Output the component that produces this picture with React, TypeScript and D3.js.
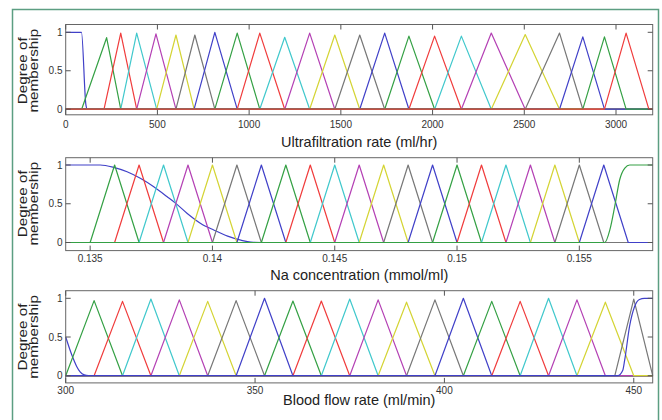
import * as d3 from "d3";
import React, { useEffect, useRef } from "react";

// couleurs dans l'ordre de tracé (b g r c m y k)
const lineColors = ["#4040c8", "#34a044", "#f03c3c", "#40c8cc", "#b440b4", "#d4d434", "#777777"];

// --- Ultrafiltration rate (ml/hr)
const ufTicks = [0, 500, 1000, 1500, 2000, 2500, 3000];
const ufTickLabels = ["0", "500", "1000", "1500", "2000", "2500", "3000"];
const ufLeft = [[0, 1], [86, 1], [110, 0.06], [118, 0]];
const ufTriangles = [
  [87, 223, 300], [209, 300, 387], [300, 387, 496], [387, 492, 601], [496, 601, 700],
  [601, 704, 813], [700, 813, 935], [813, 935, 1058], [935, 1058, 1194], [1058, 1194, 1330],
  [1194, 1330, 1467], [1330, 1467, 1603], [1467, 1603, 1739], [1603, 1739, 1871], [1739, 1871, 2011],
  [1871, 2011, 2157], [2011, 2157, 2320], [2157, 2320, 2505], [2320, 2505, 2692], [2505, 2692, 2819],
  [2692, 2819, 2937], [2819, 2937, 3055], [2937, 3055, 3179],
];
const ufPeaks = [0.93, 0.99, 0.99, 0.98, 0.965, 0.965, 1, 0.99, 0.99, 0.935, 0.99, 0.965,
  0.965, 0.99, 0.95, 0.95, 0.95, 0.99, 0.97, 0.99, 0.94, 0.94, 0.99];

// --- Na concentration (mmol/ml)
const naTicks = [0.135, 0.14, 0.145, 0.15, 0.155];
const naTickLabels = ["0.135", "0.14", "0.145", "0.15", "0.155"];
const naLeft = [
  [0.134, 1], [0.13541, 1], [0.13596, 0.97], [0.13651, 0.913], [0.13705, 0.828], [0.1376, 0.719],
  [0.13815, 0.59], [0.1385, 0.505], [0.13897, 0.375], [0.13952, 0.246], [0.14007, 0.159],
  [0.14062, 0.082], [0.14116, 0.03], [0.14157, 0.004], [0.142, 0],
];
const naTriangles = [
  [0.135, 0.136, 0.137], [0.136, 0.137, 0.138], [0.137, 0.138, 0.139], [0.138, 0.139, 0.14],
  [0.139, 0.14, 0.141], [0.14, 0.141, 0.142], [0.141, 0.142, 0.143], [0.142, 0.143, 0.144],
  [0.143, 0.144, 0.145], [0.144, 0.145, 0.146], [0.145, 0.146, 0.147], [0.146, 0.147, 0.148],
  [0.147, 0.148, 0.149], [0.148, 0.149, 0.15], [0.149, 0.15, 0.151], [0.15, 0.151, 0.152],
  [0.151, 0.152, 0.153], [0.152, 0.153, 0.154], [0.153, 0.154, 0.155], [0.154, 0.155, 0.156],
  [0.155, 0.156, 0.157],
];
const naPeaks = naTriangles.map(() => 1);
const naRight = [
  [0.15604, 0], [0.15625, 0.165], [0.15645, 0.47], [0.15665, 0.81], [0.15686, 0.96],
  [0.15706, 1], [0.158, 1],
];

// --- Blood flow rate (ml/min)
const bfTicks = [300, 350, 400, 450];
const bfTickLabels = ["300", "350", "400", "450"];
const bfLeft = [[300, 0.5], [301.6, 0.27], [302.9, 0.12], [303.8, 0.05], [304.9, 0.01], [306, 0]];
const bfTriangles = [
  [300, 307.5, 315], [307.5, 315, 322.5], [315, 322.5, 330], [322.5, 330, 337.5], [330, 337.5, 345],
  [337.5, 345, 352.5], [345, 352.5, 360], [352.5, 360, 367.5], [360, 367.5, 375], [367.5, 375, 382.5],
  [375, 382.5, 390], [382.5, 390, 397.5], [390, 397.5, 405], [397.5, 405, 412.5], [405, 412.5, 420],
  [412.5, 420, 427.5], [420, 427.5, 435], [427.5, 435, 442.5], [435, 442.5, 450], [445, 450, 455],
];
const bfPeaks = [0.97, 0.96, 0.99, 0.98, 0.96, 0.97, 1, 0.965, 0.965, 0.99, 0.98, 0.95,
  0.98, 1, 0.96, 0.96, 1, 0.98, 0.95, 0.99];
const bfRight = [
  [445.8, 0], [447.1, 0.07], [447.6, 0.2], [448.9, 0.64], [450.2, 0.89], [451.5, 0.985],
  [452.8, 1], [455, 1],
];

const panels = [
  {
    label: "Ultrafiltration rate (ml/hr)", domain: [0, 3200], ticks: ufTicks, tickLabels: ufTickLabels,
    left: ufLeft, triangles: ufTriangles, peaks: ufPeaks, right: null,
    top: 24.5, y1: 32.3, y0: 109.2, bottom: 114.8, tickLabelY: 128, labelY: 147,
  },
  {
    label: "Na concentration (mmol/ml)", domain: [0.134, 0.158], ticks: naTicks, tickLabels: naTickLabels,
    left: naLeft, triangles: naTriangles, peaks: naPeaks, right: naRight,
    top: 157.7, y1: 165, y0: 242.5, bottom: 250.6, tickLabelY: 262, labelY: 280,
  },
  {
    label: "Blood flow rate (ml/min)", domain: [300, 455], ticks: bfTicks, tickLabels: bfTickLabels,
    left: bfLeft, triangles: bfTriangles, peaks: bfPeaks, right: bfRight,
    top: 290.7, y1: 298.3, y0: 375.7, bottom: 382.9, tickLabelY: 394, labelY: 405,
  },
];

const App = () => {
  const svgRef = useRef<SVGSVGElement>(null);

  useEffect(() => {
    const width = 662;
    const height = 420;
    const left = 65.7;
    const right = 652.7;
    const font = "Arial, 'Liberation Sans', sans-serif";

    const svg = d3.select(svgRef.current).attr("width", width).attr("height", height);
    svg.selectAll("*").remove();

    svg.append("rect").attr("width", width).attr("height", height).attr("fill", "#ffffff");

    // cadre vert autour de la figure
    svg.append("rect")
      .attr("x", 12.5).attr("y", 9.5)
      .attr("width", 646).attr("height", 430)
      .attr("fill", "none")
      .attr("stroke", "#5c9e82")
      .attr("stroke-width", 1.5);

    panels.forEach((p) => {
      const x = d3.scaleLinear().domain(p.domain).range([left, right]);
      const y = d3.scaleLinear().domain([0, 1]).range([p.y0, p.y1]);
      const g = svg.append("g");

      const line = d3.line<number[]>().x((d) => x(d[0])).y((d) => y(d[1]));
      const smooth = d3.line<number[]>().x((d) => x(d[0])).y((d) => y(d[1])).curve(d3.curveMonotoneX);

      // fonctions d'appartenance, dans l'ordre de tracé
      const curves: { pts: number[][]; smooth: boolean }[] = [];
      curves.push({ pts: [...p.left, [p.domain[1], 0]], smooth: true });
      p.triangles.forEach((t, i) => {
        curves.push({
          pts: [[p.domain[0], 0], [t[0], 0], [t[1], p.peaks[i]], [t[2], 0], [p.domain[1], 0]],
          smooth: false,
        });
      });
      if (p.right) curves.push({ pts: [[p.domain[0], 0], ...p.right], smooth: true });

      curves.forEach((c, i) => {
        g.append("path")
          .datum(c.pts)
          .attr("fill", "none")
          .attr("stroke", lineColors[i % lineColors.length])
          .attr("stroke-width", 1.2)
          .attr("stroke-linejoin", "round")
          .attr("d", c.smooth ? smooth : line);
      });

      // boîte des axes
      g.append("rect")
        .attr("x", left).attr("y", p.top)
        .attr("width", right - left).attr("height", p.bottom - p.top)
        .attr("fill", "none").attr("stroke", "#666").attr("stroke-width", 1);

      // graduations x (en haut et en bas, vers l'intérieur)
      p.ticks.forEach((t, i) => {
        const xx = x(t);
        g.append("line").attr("x1", xx).attr("x2", xx).attr("y1", p.bottom).attr("y2", p.bottom - 5)
          .attr("stroke", "#555");
        g.append("line").attr("x1", xx).attr("x2", xx).attr("y1", p.top).attr("y2", p.top + 5)
          .attr("stroke", "#555");
        g.append("text")
          .attr("x", xx).attr("y", p.tickLabelY)
          .attr("text-anchor", "middle")
          .attr("font-family", font).attr("font-size", 10).attr("fill", "#333")
          .text(p.tickLabels[i]);
      });

      // graduations y
      [0, 0.5, 1].forEach((v) => {
        const yy = y(v);
        g.append("line").attr("x1", left).attr("x2", left + 5).attr("y1", yy).attr("y2", yy).attr("stroke", "#555");
        g.append("line").attr("x1", right).attr("x2", right - 5).attr("y1", yy).attr("y2", yy).attr("stroke", "#555");
        g.append("text")
          .attr("x", 62.5).attr("y", yy + 3.5)
          .attr("text-anchor", "end")
          .attr("font-family", font).attr("font-size", 10).attr("fill", "#333")
          .text(String(v));
      });

      // titre de l'axe y, sur deux lignes (glyphes un peu resserrés comme l'original)
      const mid = y(0.5);
      g.append("text")
        .attr("transform", `translate(26.5,${mid}) rotate(-90) scale(1.05,0.85)`)
        .attr("text-anchor", "middle")
        .attr("font-family", font).attr("font-size", 14.5).attr("fill", "#222")
        .text("Degree of");
      g.append("text")
        .attr("transform", `translate(37.5,${mid}) rotate(-90) scale(1.05,0.85)`)
        .attr("text-anchor", "middle")
        .attr("font-family", font).attr("font-size", 14.5).attr("fill", "#222")
        .text("membership");

      // titre de l'axe x
      g.append("text")
        .attr("x", (left + right) / 2).attr("y", p.labelY)
        .attr("text-anchor", "middle")
        .attr("font-family", font).attr("font-size", 14.5).attr("fill", "#222")
        .text(p.label);
    });
  }, []);

  return (
    <div>
      <style>{"body{margin:0}"}</style>
      <svg ref={svgRef} style={{ display: "block" }}></svg>
    </div>
  );
};

export default App;
